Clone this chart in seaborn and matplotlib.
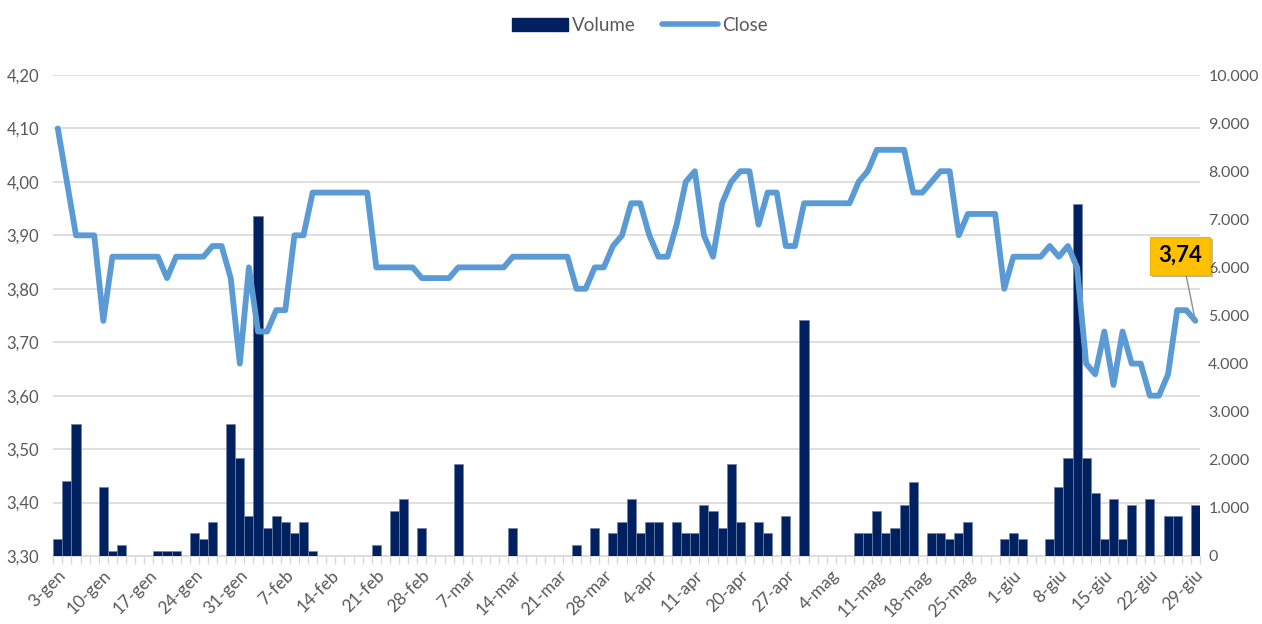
import numpy as np
import pandas as pd
import seaborn as sns
import matplotlib.pyplot as plt
import matplotlib.patheffects as pe
from matplotlib.patches import Patch
from matplotlib.lines import Line2D
from matplotlib.ticker import FuncFormatter, MultipleLocator

sns.set_theme(style='white')
plt.rcParams['font.family'] = ['Lato', 'DejaVu Sans']

# giorni di borsa 2022 (senza venerdi santo e pasquetta)
mesi = ['gen', 'feb', 'mar', 'apr', 'mag', 'giu']
giorni = pd.bdate_range('2022-01-03', '2022-06-29')
giorni = giorni.drop(pd.to_datetime(['2022-04-15', '2022-04-18']))
etichette = [f'{d.day}-{mesi[d.month - 1]}' for d in giorni]

close = [4.10, 4.00, 3.90, 3.90, 3.90, 3.74, 3.86, 3.86, 3.86, 3.86,
         3.86, 3.86, 3.82, 3.86, 3.86, 3.86, 3.86, 3.88, 3.88, 3.82,
         3.66, 3.84, 3.72, 3.72, 3.76, 3.76, 3.90, 3.90, 3.98, 3.98,
         3.98, 3.98, 3.98, 3.98, 3.98, 3.84, 3.84, 3.84, 3.84, 3.84,
         3.82, 3.82, 3.82, 3.82, 3.84, 3.84, 3.84, 3.84, 3.84, 3.84,
         3.86, 3.86, 3.86, 3.86, 3.86, 3.86, 3.86, 3.80, 3.80, 3.84,
         3.84, 3.88, 3.90, 3.96, 3.96, 3.90, 3.86, 3.86, 3.92, 4.00,
         4.02, 3.90, 3.86, 3.96, 4.00, 4.02, 4.02, 3.92, 3.98, 3.98,
         3.88, 3.88, 3.96, 3.96, 3.96, 3.96, 3.96, 3.96, 4.00, 4.02,
         4.06, 4.06, 4.06, 4.06, 3.98, 3.98, 4.00, 4.02, 4.02, 3.90,
         3.94, 3.94, 3.94, 3.94, 3.80, 3.86, 3.86, 3.86, 3.86, 3.88,
         3.86, 3.88, 3.84, 3.66, 3.64, 3.72, 3.62, 3.72, 3.66, 3.66,
         3.60, 3.60, 3.64, 3.76, 3.76, 3.74]

volume = [350, 1550, 2750, 0, 0, 1430, 100, 220, 0, 0,
          0, 100, 100, 100, 0, 470, 350, 700, 0, 2750,
          2040, 825, 7070, 590, 825, 700, 470, 700, 100, 0,
          0, 0, 0, 0, 0, 220, 0, 945, 1180, 0,
          590, 0, 0, 0, 1910, 0, 0, 0, 0, 0,
          590, 0, 0, 0, 0, 0, 0, 220, 0, 590,
          0, 470, 700, 1180, 470, 700, 700, 0, 700, 470,
          470, 1060, 945, 590, 1910, 700, 0, 700, 470, 0,
          825, 0, 4900, 0, 0, 0, 0, 0, 470, 470,
          945, 470, 590, 1060, 1540, 0, 470, 470, 350, 470,
          700, 0, 0, 0, 350, 470, 350, 0, 0, 350,
          1430, 2040, 7320, 2040, 1310, 350, 1180, 350, 1060, 0,
          1180, 0, 825, 825, 0, 1060]

pos = np.arange(len(etichette))
NAVY = '#002060'
BLU = '#5B9BD5'
GRIGIO = '#595959'
GRIGLIA = '#D9D9D9'

fig = plt.figure(figsize=(12.62, 6.24), dpi=100)
ax = fig.add_axes([0.0422, 0.109, 0.9086, 0.7708])
ax2 = ax.twinx()
ax3 = ax.twinx()

# barre volume (asse destro)
sns.barplot(x=pos, y=volume, ax=ax2, color=NAVY, native_scale=True, width=1,
            errorbar=None, edgecolor='#7083a6', linewidth=0.5, saturation=1)
ax2.set_ylim(0, 10000)
ax2.yaxis.set_major_locator(MultipleLocator(1000))
ax2.yaxis.set_major_formatter(FuncFormatter(lambda v, p: f'{int(v):,}'.replace(',', '.')))
ax2.tick_params(axis='y', length=0, labelsize=11.5, labelcolor=GRIGIO, pad=6)
ax2.set_ylabel('')

# linea close (asse sinistro)
sns.lineplot(x=pos, y=close, ax=ax3, color=BLU, linewidth=4.2)
ax3.set_ylim(3.30, 4.20)
ax3.set_yticks([])
ax3.set_ylabel('')

ax.set_ylim(3.30, 4.20)
ax.yaxis.set_major_locator(MultipleLocator(0.1))
ax.yaxis.set_major_formatter(FuncFormatter(lambda v, p: f'{v:.2f}'.replace('.', ',')))
ax.grid(axis='y', color=GRIGLIA, linewidth=1.2)
ax.tick_params(axis='y', length=0, labelsize=12, labelcolor=GRIGIO, pad=10)

ax.set_xlim(-0.5, len(pos) - 0.5)
ax.set_xticks(pos[::5])
ax.set_xticklabels(etichette[::5], rotation=45, ha='right', rotation_mode='anchor')
ax.set_xticks(np.arange(-0.5, len(pos), 1), minor=True)
ax.tick_params(axis='x', which='major', length=0, labelsize=12.5, labelcolor=GRIGIO, pad=8)
ax.tick_params(axis='x', which='minor', length=6, color=GRIGLIA, width=1, bottom=True)

for a in (ax, ax2, ax3):
    for s in a.spines.values():
        s.set_visible(False)
ax.spines['bottom'].set_visible(True)
ax.spines['bottom'].set_color(GRIGLIA)
ax.spines['bottom'].set_linewidth(1.2)

# etichetta ultimo valore
ann = ax3.annotate(f'{close[-1]:.2f}'.replace('.', ','), xy=(pos[-1], close[-1]),
                   xytext=(123.3, 3.862), ha='center', va='center',
                   fontsize=16, fontweight='bold', color='black',
                   bbox=dict(boxstyle='square,pad=0.38', fc='#FFC000', ec='#F0B400', lw=0.8),
                   arrowprops=dict(arrowstyle='-', color='#8C8C8C', lw=1,
                                   shrinkA=0, shrinkB=2, relpos=(0.6, 0)))
ann.get_bbox_patch().set_path_effects([pe.SimplePatchShadow(offset=(2, -2), alpha=0.35),
                                       pe.Normal()])

handles = [Patch(facecolor=NAVY, edgecolor=NAVY, label='Volume'),
           Line2D([0], [0], color=BLU, lw=4, solid_capstyle='round', label='Close')]
fig.legend(handles=handles, loc='upper center', bbox_to_anchor=(0.507, 1.0), ncol=2,
           frameon=False, fontsize=13.5, labelcolor=GRIGIO, handlelength=3,
           handleheight=0.7, handletextpad=0.2, columnspacing=1.4)

fig.savefig('out.png', dpi=100)
